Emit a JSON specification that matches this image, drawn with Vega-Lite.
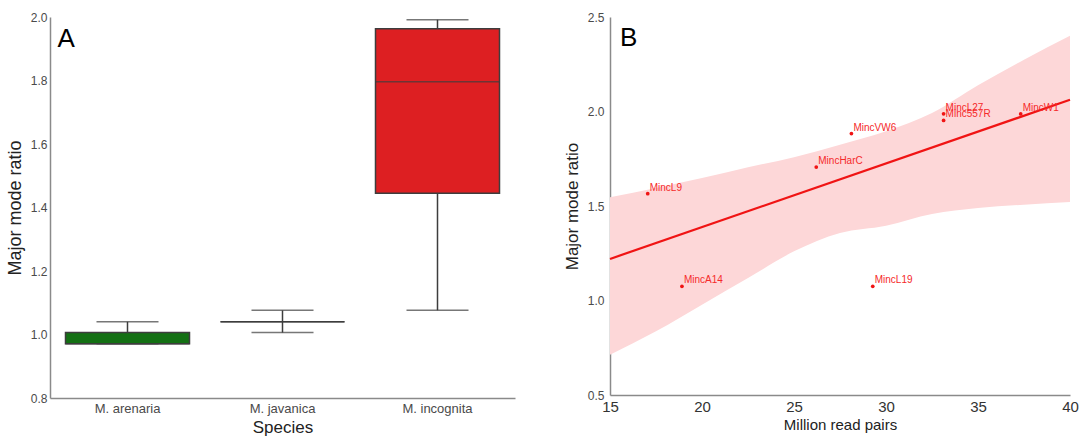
{
  "$schema": "https://vega.github.io/schema/vega-lite/v6.json",
  "background": "white",
  "padding": {"left": 6, "top": 11, "right": 5, "bottom": 2},
  "spacing": 48,
  "config": {
    "font": "Liberation Sans",
    "view": {"stroke": null},
    "axis": {"grid": false, "ticks": false, "labelFlush": false, "labelOverlap": false, "domainColor": "#8a8a8a", "domainWidth": 1.5, "labelColor": "#4a4a4a", "titleColor": "#222222", "titleFontWeight": "normal", "labelPadding": 4}
  },
  "datasets": {
    "boxes": [
      {"species": "M. arenaria", "lo": 0.971, "q1": 0.971, "med": 0.971, "q3": 1.006, "hi": 1.040, "fill": "#137013"},
      {"species": "M. javanica", "lo": 1.006, "q1": 1.040, "med": 1.040, "q3": 1.040, "hi": 1.076, "fill": "#2a52be"},
      {"species": "M. incognita", "lo": 1.076, "q1": 1.445, "med": 1.796, "q3": 1.963, "hi": 1.991, "fill": "#dd1f22"}
    ],
    "points": [
      {"pairs": 17.05, "ratio": 1.565, "name": "MincL9"},
      {"pairs": 18.91, "ratio": 1.075, "name": "MincA14"},
      {"pairs": 26.21, "ratio": 1.706, "name": "MincHarC"},
      {"pairs": 28.12, "ratio": 1.883, "name": "MincVW6"},
      {"pairs": 29.28, "ratio": 1.075, "name": "MincL19"},
      {"pairs": 33.13, "ratio": 1.988, "name": "MincL27"},
      {"pairs": 33.13, "ratio": 1.953, "name": "Minc557R"},
      {"pairs": 37.32, "ratio": 1.987, "name": "MincW1"}
    ],
    "band": [
      {"pairs": 15, "lower": 0.713, "upper": 1.546},
      {"pairs": 17.5, "lower": 0.837, "upper": 1.595},
      {"pairs": 20, "lower": 0.978, "upper": 1.648},
      {"pairs": 22.5, "lower": 1.119, "upper": 1.705},
      {"pairs": 25, "lower": 1.26, "upper": 1.758},
      {"pairs": 27.5, "lower": 1.357, "upper": 1.824},
      {"pairs": 30, "lower": 1.396, "upper": 1.895},
      {"pairs": 32.5, "lower": 1.458, "upper": 1.992},
      {"pairs": 35, "lower": 1.489, "upper": 2.139},
      {"pairs": 37.5, "lower": 1.507, "upper": 2.274},
      {"pairs": 40, "lower": 1.521, "upper": 2.401}
    ],
    "fit": [
      {"pairs": 15, "ratio": 1.22},
      {"pairs": 40, "ratio": 2.062}
    ]
  },
  "hconcat": [
    {
      "width": 465,
      "height": 381,
      "data": {"name": "boxes"},
      "encoding": {
        "x": {"field": "species", "type": "nominal", "sort": null, "title": "Species",
              "scale": {"paddingInner": 0, "paddingOuter": 0},
              "axis": {"labelAngle": 0, "labelFontSize": 13, "titleFontSize": 17, "titlePadding": 4}}
      },
      "layer": [
        {
          "mark": {"type": "rule", "color": "#3d3d3d", "strokeWidth": 1.5},
          "encoding": {
            "y": {"field": "lo", "type": "quantitative", "title": "Major mode ratio",
                  "scale": {"domain": [0.8, 2.0], "nice": false, "zero": false},
                  "axis": {"values": [0.8, 1.0, 1.2, 1.4, 1.6, 1.8, 2.0], "format": ".1f", "labelFontSize": 12, "labelPadding": 3, "titleFontSize": 18, "titlePadding": 6}},
            "y2": {"field": "hi"}
          }
        },
        {
          "mark": {"type": "tick", "color": "#3d3d3d", "size": 62, "thickness": 1.5},
          "encoding": {"y": {"field": "lo", "type": "quantitative"}}
        },
        {
          "mark": {"type": "tick", "color": "#3d3d3d", "size": 62, "thickness": 1.5},
          "encoding": {"y": {"field": "hi", "type": "quantitative"}}
        },
        {
          "mark": {"type": "bar", "width": {"band": 0.8}, "stroke": "#3d3d3d", "strokeWidth": 1.5},
          "encoding": {
            "y": {"field": "q1", "type": "quantitative"},
            "y2": {"field": "q3"},
            "fill": {"field": "fill", "type": "nominal", "scale": null}
          }
        },
        {
          "mark": {"type": "tick", "color": "#3d3d3d", "size": 124, "thickness": 1.5},
          "encoding": {"y": {"field": "med", "type": "quantitative"}}
        },
        {
          "data": {"values": [{"species": "M. arenaria", "y": 1.93, "label": "A"}]},
          "mark": {"type": "text", "fontSize": 26, "align": "left", "baseline": "middle", "dx": -70, "color": "#000000"},
          "encoding": {
            "y": {"field": "y", "type": "quantitative"},
            "text": {"field": "label"}
          }
        }
      ]
    },
    {
      "width": 460,
      "height": 378,
      "layer": [
        {
          "data": {"name": "band"},
          "mark": {"type": "area", "color": "#fdd7d8", "interpolate": "monotone"},
          "encoding": {
            "x": {"field": "pairs", "type": "quantitative", "title": "Million read pairs",
                  "scale": {"domain": [15, 40], "nice": false, "zero": false},
                  "axis": {"values": [15, 20, 25, 30, 35, 40], "labelFontSize": 15, "labelColor": "#333333", "titleFontSize": 15, "titlePadding": 3}},
            "y": {"field": "lower", "type": "quantitative", "title": "Major mode ratio",
                  "scale": {"domain": [0.5, 2.5], "nice": false, "zero": false},
                  "axis": {"values": [0.5, 1.0, 1.5, 2.0, 2.5], "format": ".1f", "labelFontSize": 12, "labelPadding": 6, "titleFontSize": 17, "titlePadding": 6}},
            "y2": {"field": "upper"}
          }
        },
        {
          "data": {"name": "fit"},
          "mark": {"type": "line", "color": "#f01414", "strokeWidth": 2.2},
          "encoding": {
            "x": {"field": "pairs", "type": "quantitative"},
            "y": {"field": "ratio", "type": "quantitative"}
          }
        },
        {
          "data": {"name": "points"},
          "mark": {"type": "circle", "color": "#f01414", "size": 14, "opacity": 1},
          "encoding": {
            "x": {"field": "pairs", "type": "quantitative"},
            "y": {"field": "ratio", "type": "quantitative"}
          }
        },
        {
          "data": {"name": "points"},
          "mark": {"type": "text", "color": "#f52a2a", "fontSize": 10, "align": "left", "baseline": "bottom", "dx": 2, "dy": -1},
          "encoding": {
            "x": {"field": "pairs", "type": "quantitative"},
            "y": {"field": "ratio", "type": "quantitative"},
            "text": {"field": "name"}
          }
        },
        {
          "data": {"values": [{"pairs": 15.55, "ratio": 2.39, "label": "B"}]},
          "mark": {"type": "text", "fontSize": 26, "align": "left", "baseline": "middle", "color": "#000000"},
          "encoding": {
            "x": {"field": "pairs", "type": "quantitative"},
            "y": {"field": "ratio", "type": "quantitative"},
            "text": {"field": "label"}
          }
        }
      ]
    }
  ]
}
